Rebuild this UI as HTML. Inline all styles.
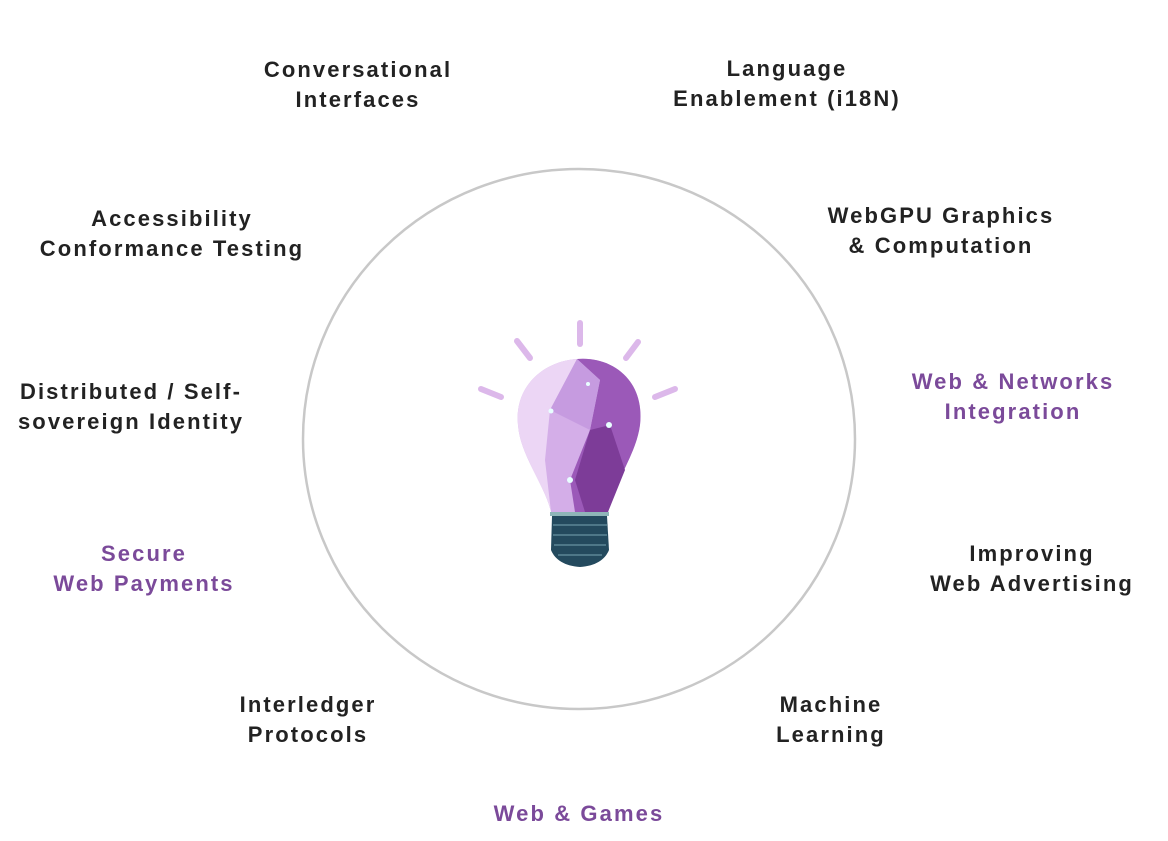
<!DOCTYPE html>
<html><head><meta charset="utf-8"><style>
body{margin:0;width:1168px;height:841px;background:#fff;position:relative;overflow:hidden;font-family:"Liberation Sans",sans-serif;}
.l{position:absolute;transform:translateX(-50%);text-align:center;white-space:nowrap;font-weight:bold;font-size:22px;line-height:30px;letter-spacing:2.1px;color:#222;}
.p{color:#7b4a9a;}
svg{position:absolute;left:0;top:0;}
</style></head><body>
<svg width="1168" height="841">
<ellipse cx="579" cy="439" rx="276" ry="270" fill="none" stroke="#c8c8c8" stroke-width="2.5"/>
<g stroke="#dcb8ea" stroke-width="6" stroke-linecap="round">
<line x1="580" y1="323" x2="580" y2="344"/>
<line x1="517" y1="341" x2="530" y2="358"/>
<line x1="638" y1="342" x2="626" y2="358"/>
<line x1="481" y1="389" x2="501" y2="397"/>
<line x1="675" y1="389" x2="655" y2="397"/>
</g>
<path d="M577 359 C612 356 645 380 640 425 C636 455 615 480 608 512 L551 512 C545 485 520 455 518 425 C514 385 545 361 577 359Z" fill="#d4aee8"/>
<path d="M577 359 C612 356 645 380 640 425 C636 455 615 480 608 512 L575 512 L570 480 L590 430 L600 380Z" fill="#9b59b8"/>
<path d="M590 430 L610 425 L625 470 L608 512 L585 512 L575 480Z" fill="#7d3c98"/>
<path d="M518 425 C514 385 545 361 577 359 L550 410 L545 460 L551 512 C545 485 520 455 518 425Z" fill="#ecd6f5"/>
<path d="M577 359 L600 380 L590 430 L550 410Z" fill="#c69be0"/>
<circle cx="551" cy="411" r="2.5" fill="#e8ffff"/><circle cx="609" cy="425" r="3" fill="#e8ffff"/><circle cx="570" cy="480" r="3" fill="#e8ffff"/><circle cx="588" cy="384" r="2" fill="#e8ffff"/>
<rect x="550" y="512" width="59" height="4" fill="#8fb5b8"/>
<path d="M552 516 L607 516 L609 550 C605 560 595 566 580 567 C565 566 555 560 551 550Z" fill="#244a5e"/>
<g stroke="#4e7788" stroke-width="2"><line x1="553" y1="525" x2="607" y2="525"/><line x1="553" y1="535" x2="607" y2="535"/><line x1="554" y1="545" x2="606" y2="545"/><line x1="558" y1="555" x2="602" y2="555"/></g>
</svg>
<div class="l" style="left:358px;top:55px">Conversational<br>Interfaces</div>
<div class="l" style="left:787px;top:54px">Language<br>Enablement (i18N)</div>
<div class="l" style="left:172px;top:204px">Accessibility<br>Conformance Testing</div>
<div class="l" style="left:941px;top:201px">WebGPU Graphics<br>&amp; Computation</div>
<div class="l" style="left:131px;top:377px">Distributed / Self-<br>sovereign Identity</div>
<div class="l p" style="left:1013px;top:367px">Web &amp; Networks<br>Integration</div>
<div class="l p" style="left:144px;top:539px">Secure<br>Web Payments</div>
<div class="l" style="left:1032px;top:539px">Improving<br>Web Advertising</div>
<div class="l" style="left:308px;top:690px">Interledger<br>Protocols</div>
<div class="l" style="left:831px;top:690px">Machine<br>Learning</div>
<div class="l p" style="left:579px;top:799px">Web &amp; Games</div>
</body></html>
